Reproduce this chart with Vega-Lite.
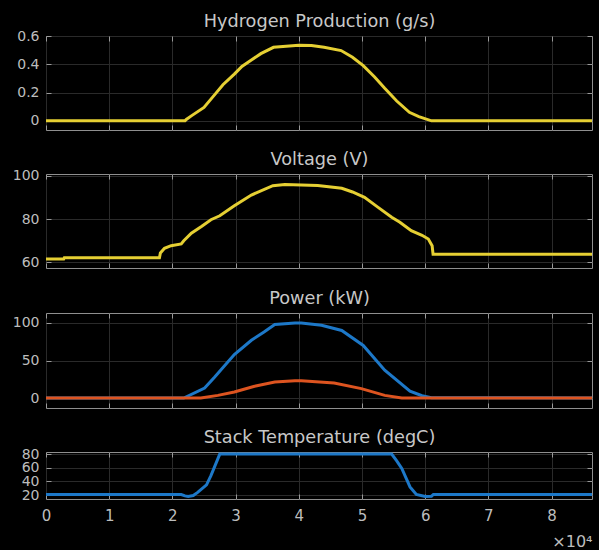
{
  "$schema": "https://vega.github.io/schema/vega-lite/v6.json",
  "background": "#000000",
  "padding": {"left": 11, "top": 12, "right": 0, "bottom": 0},
  "spacing": 19,
  "config": {
    "font": "DejaVu Sans",
    "view": {"stroke": "#8f8f8f", "strokeWidth": 1},
    "axis": {"domain": false, "tickSize": -5, "tickColor": "#9a9a9a", "tickWidth": 1, "labelColor": "#bdbdbd", "labelFont": "DejaVu Sans", "labelFontSize": 14, "gridColor": "#2a2a2a", "gridWidth": 1, "labelOverlap": false, "labelBound": false, "labelFlush": false,
             "titleFont": "DejaVu Sans", "titleFontSize": 17.7, "titleFontWeight": "normal", "titleColor": "#c8c8c8", "titlePadding": 5},
    "axisY": {"labelPadding": 12},
    "axisX": {"labelPadding": 14},
    "line": {"strokeWidth": 3, "interpolate": "linear", "clip": true}
  },
  "datasets": {
    "h2": [
      {"t": 0, "v": 0}, {"t": 22000, "v": 0}, {"t": 22200, "v": 0.01}, {"t": 23000, "v": 0.035},
      {"t": 25000, "v": 0.095}, {"t": 26600, "v": 0.18}, {"t": 28000, "v": 0.255}, {"t": 29800, "v": 0.33},
      {"t": 31000, "v": 0.385}, {"t": 32500, "v": 0.43}, {"t": 34000, "v": 0.475}, {"t": 36000, "v": 0.52},
      {"t": 38000, "v": 0.528}, {"t": 40000, "v": 0.535}, {"t": 42000, "v": 0.532}, {"t": 44000, "v": 0.52},
      {"t": 46700, "v": 0.497}, {"t": 48500, "v": 0.45}, {"t": 50200, "v": 0.39}, {"t": 52000, "v": 0.31},
      {"t": 53600, "v": 0.23}, {"t": 55500, "v": 0.14}, {"t": 57500, "v": 0.06}, {"t": 59000, "v": 0.03},
      {"t": 61000, "v": 0}, {"t": 86400, "v": 0}
    ],
    "volt": [
      {"t": 0, "v": 61.5}, {"t": 2800, "v": 61.5}, {"t": 2900, "v": 62.1}, {"t": 17950, "v": 62.1},
      {"t": 18100, "v": 64.3}, {"t": 18750, "v": 66.5}, {"t": 19800, "v": 67.7}, {"t": 21400, "v": 68.5},
      {"t": 21800, "v": 70}, {"t": 23000, "v": 73.5}, {"t": 24600, "v": 76.6}, {"t": 26100, "v": 79.7},
      {"t": 27500, "v": 81.5}, {"t": 29800, "v": 86.1}, {"t": 32500, "v": 91.1}, {"t": 35900, "v": 95.4},
      {"t": 37800, "v": 95.9}, {"t": 40400, "v": 95.7}, {"t": 43000, "v": 95.5}, {"t": 46800, "v": 94.2},
      {"t": 48500, "v": 92.5}, {"t": 50400, "v": 90}, {"t": 52500, "v": 85.5}, {"t": 54700, "v": 80.8},
      {"t": 56000, "v": 78.5}, {"t": 57800, "v": 74.6}, {"t": 59500, "v": 72.5}, {"t": 60500, "v": 70.8},
      {"t": 61100, "v": 67.7}, {"t": 61250, "v": 63.8}, {"t": 86400, "v": 63.8}
    ],
    "power": [
      {"t": 0, "v": 0, "s": "a"}, {"t": 21800, "v": 0, "s": "a"}, {"t": 25100, "v": 13.3, "s": "a"},
      {"t": 26700, "v": 28, "s": "a"}, {"t": 29800, "v": 58, "s": "a"}, {"t": 32500, "v": 77, "s": "a"},
      {"t": 34500, "v": 88, "s": "a"}, {"t": 36200, "v": 98, "s": "a"}, {"t": 39400, "v": 100, "s": "a"},
      {"t": 40400, "v": 100, "s": "a"}, {"t": 43600, "v": 97, "s": "a"}, {"t": 46800, "v": 90, "s": "a"},
      {"t": 50200, "v": 70, "s": "a"}, {"t": 53600, "v": 37, "s": "a"}, {"t": 57600, "v": 9, "s": "a"},
      {"t": 59500, "v": 3, "s": "a"}, {"t": 61000, "v": 0.5, "s": "a"}, {"t": 86400, "v": 0, "s": "a"},
      {"t": 0, "v": 0, "s": "b"}, {"t": 24500, "v": 0, "s": "b"}, {"t": 27200, "v": 3.5, "s": "b"},
      {"t": 29800, "v": 8, "s": "b"}, {"t": 33000, "v": 15.6, "s": "b"}, {"t": 36200, "v": 21.3, "s": "b"},
      {"t": 39400, "v": 23, "s": "b"}, {"t": 40400, "v": 23, "s": "b"}, {"t": 45600, "v": 20, "s": "b"},
      {"t": 49900, "v": 12.5, "s": "b"}, {"t": 53600, "v": 3.5, "s": "b"}, {"t": 56300, "v": 0, "s": "b"},
      {"t": 86400, "v": 0, "s": "b"}
    ],
    "temp": [
      {"t": 0, "v": 21}, {"t": 21400, "v": 21}, {"t": 22000, "v": 19}, {"t": 22500, "v": 18},
      {"t": 23300, "v": 19.5}, {"t": 24000, "v": 24}, {"t": 25400, "v": 35}, {"t": 26100, "v": 48.5},
      {"t": 27500, "v": 80}, {"t": 54700, "v": 80}, {"t": 55500, "v": 70}, {"t": 56300, "v": 59},
      {"t": 57600, "v": 32}, {"t": 58600, "v": 21}, {"t": 60000, "v": 18}, {"t": 61000, "v": 18.5},
      {"t": 61300, "v": 21}, {"t": 86400, "v": 21}
    ]
  },
  "vconcat": [
    {
      "width": 546, "height": 94,
      "data": {"name": "h2"},
      "resolve": {"axis": {"x": "independent", "y": "independent"}},
      "layer": [
        {
          "mark": {"type": "line", "color": "#e5cf33"},
          "encoding": {
            "x": {"field": "t", "type": "quantitative", "scale": {"domain": [0, 86400], "nice": false, "zero": false},
                  "axis": {"title": null, "values": [0, 10000, 20000, 30000, 40000, 50000, 60000, 70000, 80000], "labels": false}},
            "y": {"field": "v", "type": "quantitative", "scale": {"domain": [-0.065, 0.6], "nice": false, "zero": false},
                  "axis": {"title": null, "values": [0, 0.2, 0.4, 0.6], "format": "~g"}}
          }
        },
        {
          "mark": {"type": "line", "opacity": 0},
          "encoding": {
            "x": {"field": "t", "type": "quantitative", "scale": {"domain": [0, 86400], "nice": false, "zero": false},
                  "axis": {"orient": "top", "title": "Hydrogen Production (g/s)", "values": [0, 10000, 20000, 30000, 40000, 50000, 60000, 70000, 80000], "labels": false, "grid": false}},
            "y": {"field": "v", "type": "quantitative", "scale": {"domain": [-0.065, 0.6], "nice": false, "zero": false},
                  "axis": {"orient": "right", "title": null, "values": [0, 0.2, 0.4, 0.6], "labels": false, "grid": false}}
          }
        }
      ]
    },
    {
      "width": 546, "height": 94,
      "data": {"name": "volt"},
      "resolve": {"axis": {"x": "independent", "y": "independent"}},
      "layer": [
        {
          "mark": {"type": "line", "color": "#e5cf33"},
          "encoding": {
            "x": {"field": "t", "type": "quantitative", "scale": {"domain": [0, 86400], "nice": false, "zero": false},
                  "axis": {"title": null, "values": [0, 10000, 20000, 30000, 40000, 50000, 60000, 70000, 80000], "labels": false}},
            "y": {"field": "v", "type": "quantitative", "scale": {"domain": [57.4, 100.8], "nice": false, "zero": false},
                  "axis": {"title": null, "values": [60, 80, 100]}}
          }
        },
        {
          "mark": {"type": "line", "opacity": 0},
          "encoding": {
            "x": {"field": "t", "type": "quantitative", "scale": {"domain": [0, 86400], "nice": false, "zero": false},
                  "axis": {"orient": "top", "title": "Voltage (V)", "values": [0, 10000, 20000, 30000, 40000, 50000, 60000, 70000, 80000], "labels": false, "grid": false}},
            "y": {"field": "v", "type": "quantitative", "scale": {"domain": [57.4, 100.8], "nice": false, "zero": false},
                  "axis": {"orient": "right", "title": null, "values": [60, 80, 100], "labels": false, "grid": false}}
          }
        }
      ]
    },
    {
      "width": 546, "height": 95,
      "data": {"name": "power"},
      "resolve": {"axis": {"x": "independent", "y": "independent"}},
      "layer": [
        {
          "mark": {"type": "line"},
          "encoding": {
            "x": {"field": "t", "type": "quantitative", "scale": {"domain": [0, 86400], "nice": false, "zero": false},
                  "axis": {"title": null, "values": [0, 10000, 20000, 30000, 40000, 50000, 60000, 70000, 80000], "labels": false}},
            "y": {"field": "v", "type": "quantitative", "scale": {"domain": [-13.3, 113.3], "nice": false, "zero": false},
                  "axis": {"title": null, "values": [0, 50, 100]}},
            "color": {"field": "s", "type": "nominal", "scale": {"domain": ["a", "b"], "range": ["#1d78c8", "#dd5420"]}, "legend": null}
          }
        },
        {
          "mark": {"type": "line", "opacity": 0},
          "encoding": {
            "x": {"field": "t", "type": "quantitative", "scale": {"domain": [0, 86400], "nice": false, "zero": false},
                  "axis": {"orient": "top", "title": "Power (kW)", "values": [0, 10000, 20000, 30000, 40000, 50000, 60000, 70000, 80000], "labels": false, "grid": false}},
            "y": {"field": "v", "type": "quantitative", "scale": {"domain": [-13.3, 113.3], "nice": false, "zero": false},
                  "axis": {"orient": "right", "title": null, "values": [0, 50, 100], "labels": false, "grid": false}},
            "detail": {"field": "s"}
          }
        }
      ]
    },
    {
      "width": 546, "height": 47,
      "data": {"name": "temp"},
      "resolve": {"axis": {"x": "independent", "y": "independent"}},
      "layer": [
        {
          "mark": {"type": "line", "color": "#1d78c8"},
          "encoding": {
            "x": {"field": "t", "type": "quantitative", "scale": {"domain": [0, 86400], "nice": false, "zero": false},
                  "axis": {"title": "×10⁴", "titleAnchor": "end", "titleFontSize": 16, "titlePadding": 10, "titleColor": "#bdbdbd",
                           "values": [0, 10000, 20000, 30000, 40000, 50000, 60000, 70000, 80000], "labelExpr": "datum.value / 10000", "labelFontSize": 15}},
            "y": {"field": "v", "type": "quantitative", "scale": {"domain": [14.4, 83.1], "nice": false, "zero": false},
                  "axis": {"title": null, "values": [20, 40, 60, 80]}}
          }
        },
        {
          "mark": {"type": "line", "opacity": 0},
          "encoding": {
            "x": {"field": "t", "type": "quantitative", "scale": {"domain": [0, 86400], "nice": false, "zero": false},
                  "axis": {"orient": "top", "title": "Stack Temperature (degC)", "values": [0, 10000, 20000, 30000, 40000, 50000, 60000, 70000, 80000], "labels": false, "grid": false}},
            "y": {"field": "v", "type": "quantitative", "scale": {"domain": [14.4, 83.1], "nice": false, "zero": false},
                  "axis": {"orient": "right", "title": null, "values": [20, 40, 60, 80], "labels": false, "grid": false}}
          }
        }
      ]
    }
  ]
}
